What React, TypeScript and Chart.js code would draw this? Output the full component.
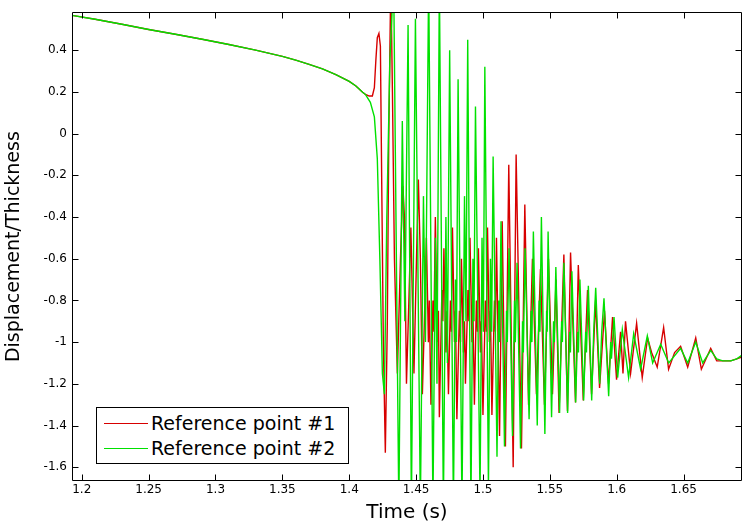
import React, { useEffect, useRef } from "react";
import { Chart, registerables } from "chart.js";

Chart.register(...registerables);

// Shared smooth part (both reference points coincide before ~1.412 s)
const sharedTime = [1.1927, 1.21, 1.23, 1.25, 1.27, 1.29, 1.31, 1.33, 1.35, 1.36, 1.37, 1.38, 1.39, 1.4, 1.405, 1.41];
const sharedDisp = [0.567, 0.548, 0.524, 0.499, 0.476, 0.452, 0.427, 0.4, 0.37, 0.352, 0.332, 0.31, 0.283, 0.25, 0.228, 0.198];

// Reference point #1 (red) after divergence
const ref1Time = [
  1.4121, 1.415, 1.4173, 1.4188, 1.4199, 1.421, 1.4222, 1.4233, 1.4244, 1.4255,
  1.427, 1.4285, 1.4296, 1.4311, 1.4323, 1.4338, 1.436, 1.4383, 1.4401, 1.4413,
  1.4428, 1.4446, 1.4461, 1.4484, 1.4503, 1.4517, 1.4532, 1.4547, 1.4562, 1.4577,
  1.4592, 1.4599, 1.4611, 1.4626, 1.4633, 1.4644, 1.4659, 1.4667, 1.4674, 1.4693,
  1.47, 1.4708, 1.4723, 1.473, 1.4742, 1.4757, 1.4764, 1.4772, 1.4787, 1.4794,
  1.4805, 1.4824, 1.4832, 1.4839, 1.4854, 1.4862, 1.4869, 1.4888, 1.4895, 1.4903,
  1.4918, 1.4925, 1.4936, 1.4951, 1.4959, 1.4966, 1.4981, 1.4988, 1.5, 1.5018,
  1.5026, 1.5034, 1.5048, 1.5056, 1.5067, 1.5086, 1.5093, 1.5101, 1.5124, 1.5144,
  1.5168, 1.5193, 1.5226, 1.5248, 1.5288, 1.5313, 1.5341, 1.537, 1.54, 1.543,
  1.546, 1.549, 1.552, 1.5546, 1.5569, 1.5605, 1.5632, 1.5655, 1.5692, 1.5713,
  1.575, 1.5782, 1.5812, 1.5842, 1.5872, 1.5909, 1.5939, 1.5969, 1.5999, 1.6029,
  1.6047, 1.6066, 1.6104, 1.6149, 1.6191, 1.6231, 1.6261, 1.6303, 1.6351, 1.6388,
  1.6433, 1.6478, 1.6531, 1.6591, 1.6633, 1.6703, 1.6748, 1.6793, 1.6853, 1.6898,
  1.6943,
];
const ref1Disp = [
  0.188, 0.18, 0.18, 0.22, 0.35, 0.46, 0.48, 0.42, -0.3, -1.0,
  -1.53, -0.9, 0.0, 0.75, 0.2, -0.6, -1.15, -0.6, -0.25, -0.4,
  -1.2, -0.8, -0.45, -1.15, -0.6, -0.22, -0.6, -1.25, -0.9, -0.5,
  -1.0, -0.8, -1.3, -0.8, -0.95, -0.4, -1.0, -0.85, -1.36, -0.75,
  -0.9, -0.55, -1.05, -0.85, -1.25, -0.8, -0.95, -0.45, -1.0, -0.85,
  -1.37, -0.85, -1.0, -0.6, -1.05, -0.9, -1.2, -0.75, -0.9, -0.5,
  -1.0, -0.85, -1.3, -0.8, -0.95, -0.55, -1.05, -0.9, -1.35, -0.8,
  -0.95, -0.45, -1.0, -0.85, -1.35, -0.8, -0.95, -0.5, -1.45, -0.42,
  -1.5, -0.15, -1.6, -0.1, -1.51, -0.34, -1.3, -0.6, -1.25, -0.65,
  -1.3, -0.6, -1.25, -0.7, -1.34, -0.58, -1.33, -0.57, -1.29, -0.63,
  -1.28, -0.75, -1.25, -0.8, -1.22, -0.85, -1.2, -0.88, -1.18, -0.95,
  -1.15, -0.9, -1.15, -0.91, -1.17, -0.98, -1.05, -1.12, -0.93, -1.13,
  -1.05, -1.02, -1.12, -0.98, -1.13, -1.03, -1.09, -1.09, -1.09, -1.08,
  -1.07,
];

// Reference point #2 (green) after divergence
const ref2Time = [
  1.4121, 1.4158, 1.4188, 1.421, 1.4229, 1.4248, 1.4263, 1.4281, 1.4304, 1.4332,
  1.4371, 1.4397, 1.4416, 1.444, 1.4465, 1.4495, 1.4532, 1.4555, 1.457, 1.4594,
  1.4626, 1.4644, 1.4656, 1.4674, 1.4704, 1.4723, 1.4734, 1.4751, 1.4779, 1.4794,
  1.4802, 1.4814, 1.4843, 1.4862, 1.4873, 1.4886, 1.491, 1.4925, 1.4933, 1.4944,
  1.4978, 1.4993, 1.5003, 1.5014, 1.5041, 1.5056, 1.5065, 1.5076, 1.5105, 1.5118,
  1.5124, 1.5135, 1.5161, 1.5176, 1.5182, 1.5195, 1.5221, 1.5236, 1.5242, 1.5255,
  1.5281, 1.5296, 1.5302, 1.5315, 1.5345, 1.536, 1.5366, 1.5377, 1.5406, 1.542,
  1.5426, 1.5437, 1.5463, 1.5476, 1.548, 1.5487, 1.5513, 1.5528, 1.5534, 1.5545,
  1.5573, 1.5588, 1.5594, 1.5605, 1.5633, 1.5648, 1.5654, 1.5665, 1.5693, 1.5708,
  1.5714, 1.5725, 1.5753, 1.5768, 1.5774, 1.5788, 1.5813, 1.5828, 1.5843, 1.5873,
  1.5888, 1.5905, 1.594, 1.5955, 1.5961, 1.598, 1.6007, 1.6042, 1.6089, 1.6127,
  1.6179, 1.6229, 1.6269, 1.6329, 1.6389, 1.6478, 1.6531, 1.6591, 1.6643, 1.6703,
  1.6748, 1.6793, 1.6853, 1.6898, 1.6943,
];
const ref2Disp = [
  0.188, 0.15, 0.08, -0.12, -0.6, -1.15, -1.25, -0.4, 0.35, 0.75,
  -1.8, 0.06, -0.9, 0.52, -1.8, 0.55, -1.8, -0.3, -1.0, 0.75,
  -1.8, -0.5, -1.2, 0.75, -1.8, -0.4, -1.1, 0.4, -1.8, -0.7,
  -1.0, 0.26, -1.8, -0.3, -0.9, 0.45, -1.8, -0.6, -0.9, 0.13,
  -1.75, -0.5, -0.95, 0.32, -1.7, -0.6, -0.95, -0.11, -1.55, -0.8,
  -1.0, -0.42, -1.5, -0.85, -1.0, -0.55, -1.45, -0.8, -1.0, -0.62,
  -1.51, -0.9, -1.05, -0.55, -1.37, -0.85, -1.0, -0.47, -1.4, -0.8,
  -0.95, -0.4, -1.44, -0.85, -0.95, -0.47, -1.36, -0.9, -1.0, -0.64,
  -1.34, -0.9, -1.0, -0.62, -1.34, -0.95, -1.05, -0.66, -1.29, -0.95,
  -1.05, -0.7, -1.28, -0.95, -1.05, -0.73, -1.28, -0.95, -0.74, -1.2,
  -0.95, -0.79, -1.26, -1.0, -1.08, -0.88, -1.17, -0.94, -1.17, -0.96,
  -1.13, -0.97, -1.1, -1.01, -1.1, -1.03, -1.1, -1.0, -1.1, -1.04,
  -1.08, -1.09, -1.09, -1.08, -1.06,
];

const seriesLabels = ["Reference point #1", "Reference point #2"];
const seriesColors = ["rgb(215,0,0)", "rgb(0,225,0)"];
const xTickValues = [1.2, 1.25, 1.3, 1.35, 1.4, 1.45, 1.5, 1.55, 1.6, 1.65];
const yTickValues = [-1.6, -1.4, -1.2, -1, -0.8, -0.6, -0.4, -0.2, 0, 0.2, 0.4];
const xRange = [1.1927, 1.6937];
const yRange = [-1.666, 0.582];

const FONT = "'DejaVu Sans', sans-serif";

const boxPlugin = {
  id: "matlabBox",
  afterDatasetsDraw(chart: any) {
    const { ctx, chartArea: a, scales } = chart;
    const L = 6;
    ctx.save();
    ctx.strokeStyle = "#000";
    ctx.lineWidth = 1;
    ctx.beginPath();
    const l = Math.round(a.left) + 0.5;
    const t = Math.round(a.top) + 0.5;
    const r = Math.round(a.right) - 0.5;
    const b = Math.round(a.bottom) - 0.5;
    ctx.rect(l, t, r - l, b - t);
    scales.x.ticks.forEach((tk: any) => {
      const px = Math.round(scales.x.getPixelForValue(tk.value)) + 0.5;
      ctx.moveTo(px, b);
      ctx.lineTo(px, b - L);
      ctx.moveTo(px, t);
      ctx.lineTo(px, t + L);
    });
    scales.y.ticks.forEach((tk: any) => {
      const py = Math.round(scales.y.getPixelForValue(tk.value)) + 0.5;
      ctx.moveTo(l, py);
      ctx.lineTo(l + L, py);
      ctx.moveTo(r, py);
      ctx.lineTo(r - L, py);
    });
    ctx.stroke();
    ctx.restore();
  },
};

export default function App() {
  const canvasRef = useRef<HTMLCanvasElement | null>(null);

  useEffect(() => {
    if (!canvasRef.current) return;
    const redT = sharedTime.concat(ref1Time);
    const redV = sharedDisp.concat(ref1Disp);
    const greenT = sharedTime.concat(ref2Time);
    const greenV = sharedDisp.concat(ref2Disp);
    const red = redT.map((x, i) => ({ x, y: redV[i] }));
    const green = greenT.map((x, i) => ({ x, y: greenV[i] }));
    const chart = new Chart(canvasRef.current, {
      type: "line",
      data: {
        datasets: [
          { label: seriesLabels[0], data: red, borderColor: seriesColors[0], borderWidth: 1.4, pointRadius: 0, tension: 0, order: 1 },
          { label: seriesLabels[1], data: green, borderColor: seriesColors[1], borderWidth: 1.4, pointRadius: 0, tension: 0, order: 0 },
        ],
      },
      options: {
        responsive: false,
        animation: false,
        devicePixelRatio: 1,
        events: [],
        layout: { padding: { top: 12, right: 1, bottom: 0, left: 0 } },
        plugins: { legend: { display: false }, tooltip: { enabled: false } },
        scales: {
          x: {
            type: "linear",
            min: xRange[0],
            max: xRange[1],
            afterBuildTicks: (s: any) => {
              s.ticks = xTickValues.map((v) => ({ value: v }));
            },
            afterFit: (s: any) => {
              s.height = 48;
            },
            grid: { display: false, drawTicks: false },
            border: { display: false },
            ticks: {
              padding: 2,
              color: "#000",
              font: { family: FONT, size: 12 },
              maxRotation: 0,
              autoSkip: false,
              callback: (v: any) => String(v),
            },
            title: {
              display: true,
              text: "Time (s)",
              color: "#000",
              font: { family: FONT, size: 20 },
              padding: { top: 0, bottom: 4 },
            },
          },
          y: {
            type: "linear",
            min: yRange[0],
            max: yRange[1],
            afterBuildTicks: (s: any) => {
              s.ticks = yTickValues.map((v) => ({ value: v }));
            },
            afterFit: (s: any) => {
              s.width = 72;
            },
            grid: { display: false, drawTicks: false },
            border: { display: false },
            ticks: {
              padding: 5,
              color: "#000",
              font: { family: FONT, size: 12 },
              autoSkip: false,
              callback: (v: any) => String(v),
            },
            title: {
              display: true,
              text: "Displacement/Thickness",
              color: "#000",
              font: { family: FONT, size: 19 },
              padding: { top: 3, bottom: 0 },
            },
          },
        },
      },
      plugins: [boxPlugin],
    });
    return () => chart.destroy();
  }, []);

  const legendRow = (i: number, top: number) => (
    <div style={{ position: "absolute", left: 0, top, height: 22, width: "100%" }}>
      <div style={{ position: "absolute", left: 7, top: 11, width: 44, height: 1, background: seriesColors[i] }} />
      <div
        style={{
          position: "absolute",
          left: 54,
          top: 0,
          lineHeight: "22px",
          fontSize: "19px",
          fontFamily: FONT,
          color: "#000",
          whiteSpace: "nowrap",
        }}
      >
        {seriesLabels[i]}
      </div>
    </div>
  );

  return (
    <div style={{ position: "absolute", left: 0, top: 0, width: 743, height: 529, background: "#fff" }}>
      <canvas ref={canvasRef} width={743} height={529} style={{ display: "block", width: 743, height: 529 }} />
      <div
        style={{
          position: "absolute",
          left: 96,
          top: 407,
          width: 251,
          height: 55,
          border: "1px solid #000",
          background: "#fff",
          overflow: "hidden",
        }}
      >
        {legendRow(0, 4)}
        {legendRow(1, 29)}
      </div>
    </div>
  );
}
